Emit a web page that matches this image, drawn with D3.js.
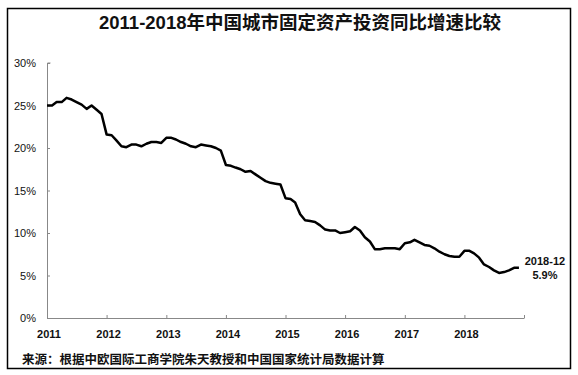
<!DOCTYPE html>
<html>
<head>
<meta charset="utf-8">
<script src="https://cdn.jsdelivr.net/npm/d3@7"></script>
<style>
  body { margin: 0; background: #fff; }
  text { font-family: "Liberation Sans", "Noto Sans CJK SC", sans-serif; fill: #111; }
</style>
</head>
<body>
<svg id="chart" width="578" height="375"></svg>
<script>
  // monthly cumulative y/y growth (%), Jan..Dec for each year
  var years = [2011, 2012, 2013, 2014, 2015, 2016, 2017, 2018];
  var growth_2011 = [25.0, 25.0, 25.4, 25.4, 25.9, 25.7, 25.4, 25.1, 24.6, 25.0, 24.5, 24.0];
  var growth_2012 = [21.6, 21.5, 20.9, 20.2, 20.1, 20.4, 20.4, 20.2, 20.5, 20.7, 20.7, 20.6];
  var growth_2013 = [21.2, 21.2, 21.0, 20.7, 20.5, 20.2, 20.1, 20.4, 20.3, 20.2, 20.0, 19.7];
  var growth_2014 = [18.0, 17.9, 17.7, 17.5, 17.2, 17.3, 16.9, 16.5, 16.1, 15.9, 15.8, 15.7];
  var growth_2015 = [14.1, 14.0, 13.6, 12.2, 11.5, 11.4, 11.3, 10.9, 10.4, 10.3, 10.3, 10.0];
  var growth_2016 = [10.1, 10.2, 10.7, 10.3, 9.5, 9.0, 8.1, 8.1, 8.2, 8.2, 8.2, 8.1];
  var growth_2017 = [8.8, 8.9, 9.2, 8.9, 8.6, 8.5, 8.2, 7.8, 7.5, 7.3, 7.2, 7.2];
  var growth_2018 = [7.9, 7.9, 7.6, 7.1, 6.3, 6.0, 5.6, 5.3, 5.4, 5.6, 5.9, 5.9];
  var y_ticks = [0, 5, 10, 15, 20, 25, 30];
  var title = "2011-2018年中国城市固定资产投资同比增速比较";
  var source = "来源：根据中欧国际工商学院朱天教授和中国国家统计局数据计算";
  var end_label = ["2018-12", "5.9%"];

  var all_years = [growth_2011, growth_2012, growth_2013, growth_2014, growth_2015, growth_2016, growth_2017, growth_2018];
  var series = [];
  for (var i=0; i<years.length; i++) {
    for (var m=0; m<12; m++) {
      series.push({date: new Date(years[i], m, 1), value: all_years[i][m]});
    }
  }

  var svg = d3.select("#chart");

  // outer frame
  svg.append("rect").attr("x", 7.5).attr("y", 8.5).attr("width", 563).attr("height", 360)
    .style("fill", "none").style("stroke", "#000").style("stroke-width", 1.5);

  svg.append("text").attr("x", 300).attr("y", 29).attr("text-anchor", "middle")
    .style("font-size", "18.5px").style("font-weight", "bold").text(title);

  var x = d3.scaleTime().domain([new Date(2011, 0, 1), new Date(2019, 0, 1)]).range([47, 524]);
  var y = d3.scaleLinear().domain([0, 30]).range([318, 63]);

  // y axis
  var yAxis = svg.append("g").attr("transform", "translate(47,0)")
    .call(d3.axisRight(y).tickValues(y_ticks).tickSize(3).tickFormat(""));
  yAxis.select(".domain").attr("d", "M3.5," + y(30) + "H0.5V" + y(0));
  yAxis.selectAll("path, line").style("stroke", "#888");
  svg.selectAll(".ylab").data(y_ticks).enter().append("text")
    .attr("x", 36).attr("y", function(d){ return y(d) + 4; })
    .attr("text-anchor", "end").style("font-size", "11px")
    .text(function(d){ return d + "%"; });

  // x axis
  var xt = years.map(function(yr){ return new Date(yr, 0, 1); }).concat([new Date(2019, 0, 1)]);
  var xAxis = svg.append("g").attr("transform", "translate(0,318)")
    .call(d3.axisTop(x).tickValues(xt).tickSize(3).tickSizeOuter(0).tickFormat(""));
  xAxis.selectAll("path, line").style("stroke", "#888");
  svg.selectAll(".xlab").data(years).enter().append("text")
    .attr("x", function(d){ return x(new Date(d, 0, 1)) + 2; }).attr("y", 338)
    .attr("text-anchor", "middle").style("font-size", "11px").style("font-weight", "bold")
    .text(function(d){ return d; });

  var line = d3.line().x(function(d){ return x(d.date); }).y(function(d){ return y(d.value); });
  svg.append("path").datum(series).attr("d", line)
    .style("fill", "none").style("stroke", "#000").style("stroke-width", 2.5)
    .style("stroke-linejoin", "round");

  var last = series[series.length - 1];
  svg.append("text").attr("x", x(last.date) + 26).attr("y", y(last.value) - 3)
    .attr("text-anchor", "middle").style("font-size", "11px").style("font-weight", "bold").text(end_label[0]);
  svg.append("text").attr("x", x(last.date) + 26).attr("y", y(last.value) + 11)
    .attr("text-anchor", "middle").style("font-size", "11px").style("font-weight", "bold").text(end_label[1]);

  svg.append("text").attr("x", 22).attr("y", 364)
    .style("font-size", "12.5px").style("font-weight", "bold").text(source);
</script>
</body>
</html>
